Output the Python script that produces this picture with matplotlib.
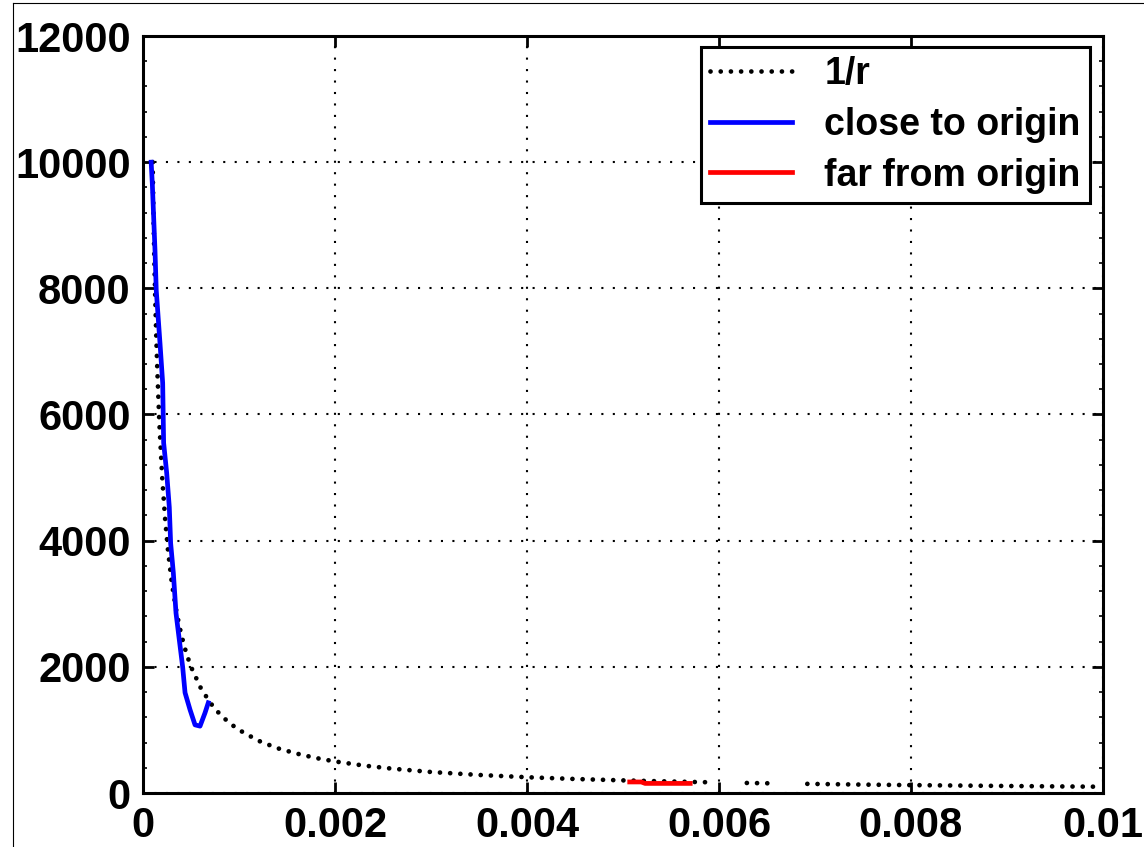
import numpy as np
import matplotlib
matplotlib.use("Agg")
import matplotlib.pyplot as plt
from matplotlib.lines import Line2D
from matplotlib.ticker import MultipleLocator

# ---- data ----
r_x = [0.00010, 0.00011, 0.00012, 0.00013, 0.00014, 0.00015, 0.00017, 0.00020,
       0.00023, 0.00026, 0.00030, 0.00035, 0.00040, 0.00045, 0.00050, 0.00060,
       0.00070, 0.00080, 0.00090, 0.00100, 0.00120, 0.00140, 0.00160, 0.00180,
       0.00200, 0.00230, 0.00260, 0.00300, 0.00350, 0.00400, 0.00450, 0.00500,
       0.00550, 0.00590, np.nan, 0.00629, 0.00660, np.nan, 0.00692, 0.00750,
       0.00800, 0.00850, 0.00900, 0.00950, 0.00995]
r_y = [10000, 9090, 8330, 7690, 7140, 6670, 5880, 5000,
       4350, 3850, 3330, 2860, 2500, 2220, 2000, 1670,
       1430, 1250, 1110, 1000, 830, 710, 625, 555,
       500, 435, 385, 333, 286, 250, 222, 200,
       182, 170, np.nan, 159, 152, np.nan, 145, 133,
       125, 118, 111, 105, 100]

close_x = [0.000085, 0.000097, 0.000125, 0.000138, 0.000177, 0.000205, 0.000215,
           0.000247, 0.000274, 0.000288, 0.000316, 0.000344, 0.000378, 0.000413,
           0.000438, 0.000490, 0.000542, 0.000594, 0.000646, 0.000680]
close_y = [10000, 9660, 8600, 7970, 7130, 6500, 5550,
           5070, 4530, 3960, 3490, 2850, 2430, 2000,
           1590, 1320, 1080, 1060, 1270, 1430]

far_x = [0.00507, 0.00519, 0.00523, 0.00570]
far_y = [175, 175, 152, 152]

labels = ["1/r", "close to origin", "far from origin"]
x_ticks = [0, 0.002, 0.004, 0.006, 0.008, 0.01]
x_ticklabels = ["0", "0.002", "0.004", "0.006", "0.008", "0.01"]
y_ticks = [0, 2000, 4000, 6000, 8000, 10000, 12000]

# ---- figure ----
plt.rcParams['font.family'] = ['Liberation Sans', 'DejaVu Sans']
plt.rcParams['font.weight'] = 'bold'
W, H = 1144, 847
fig = plt.figure(figsize=(W / 100, H / 100), dpi=100)
ax = fig.add_axes([143 / W, (H - 793) / H, (1103 - 143) / W, (793 - 36) / H])

ax.plot(r_x, r_y, color='k', lw=3.4, linestyle=(0, (0.01, 2.15)),
        dash_capstyle='round', label=labels[0])
ax.plot(close_x, close_y, color='#0000ff', lw=3.4, label=labels[1])
ax.plot(far_x, far_y, color='#ff0000', lw=3.4, label=labels[2])

ax.set_xlim(0, 0.01)
ax.set_ylim(0, 12000)
ax.set_xticks(x_ticks)
ax.set_xticklabels(x_ticklabels)
ax.set_yticks(y_ticks)
ax.yaxis.set_minor_locator(MultipleLocator(400))

ax.grid(True, which='major', color='k', linestyle=(0, (1, 4.5)), lw=1.5)
ax.tick_params(which='major', direction='in', length=8, width=2.0,
               top=True, right=True, labelsize=30, pad=9)
ax.tick_params(which='minor', direction='in', length=3, width=1.2,
               left=True, right=True)
for lab in ax.get_xticklabels() + ax.get_yticklabels():
    lab.set_fontweight('bold')
for s in ax.spines.values():
    s.set_linewidth(2.2)

leg = ax.legend(loc='upper right', bbox_to_anchor=(0.9865, 0.9855),
                fontsize=27, frameon=True, fancybox=False, shadow=False,
                framealpha=1, edgecolor='k', handlelength=2.2,
                handletextpad=0.85, labelspacing=0.39, borderpad=0.25,
                borderaxespad=0)
leg.get_frame().set_linewidth(2.2)
for t in leg.get_texts():
    t.set_fontweight('bold')

# outer figure frame (partially visible in the reference)
fig.add_artist(Line2D([13 / W, 13 / W], [0, (H - 3) / H], color='k', lw=0.8,
                      transform=fig.transFigure))
fig.add_artist(Line2D([13 / W, 1], [(H - 3) / H, (H - 3) / H], color='k', lw=0.8,
                      transform=fig.transFigure))

fig.savefig("out.png", dpi=100)
